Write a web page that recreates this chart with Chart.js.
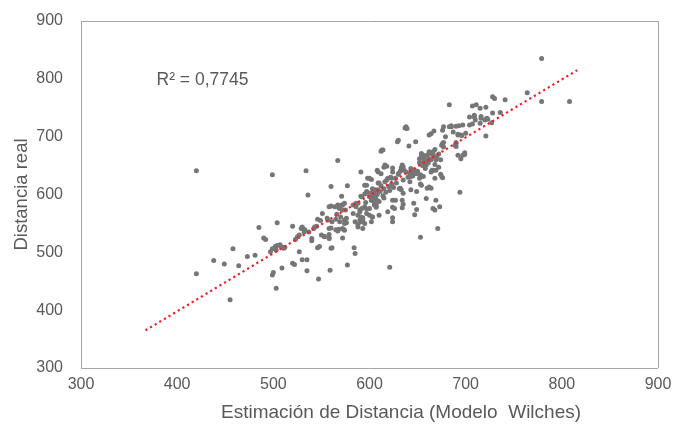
<!DOCTYPE html>
<html>
<head>
<meta charset="utf-8">
<script src="https://cdn.jsdelivr.net/npm/chart.js@4.4.1/dist/chart.umd.min.js"></script>
<style>html,body{margin:0;padding:0;background:#fff}canvas{display:block}</style>
</head>
<body>
<canvas id="c" width="674" height="431"></canvas>
<script>
// Outer / scattered points
const estimacionA = [420,420,438,449,455,458,464,473,481,485,490,492,499,504,499,500,503,497,499,502,504,507,508,503,509,512,510,511,520,520,522,523,525,527,530,530,532,534,535,535,536,533,537,540,540,542,545,547,548,546,546,549,551,550,553,556,558,558,559,560,560,561,560,560,561,565,566,567,568,568,571,571,572,573,575,576,577,577,584,585,585,586,588,590,591,592,593,595,595,596,597,598,600,600,602,603,604,605,606,607,608,608,610,610,611,612,612,613,614,615,615,616,617,618,618,619,620,621,621,622,623,624,624,624,624,625,626,627,628,629,630,630,631,632,633,634,635,635,636,637,638,639,640,641,643,644,645,647,647,648,649,649,650,652,653,653,654,655,656,657,658,660,661,662,663,664,666,666,667,668,669,670,671,672,674,675,676,676,676,677,679,683,683,685,690,692,692,693,694,696,697,697,699,700,704,704,707,707,709,711,715,716,721,721,722,727,728,728,730,736,741,764,779,779,808];
const realA = [641,463,486,480,418,506,477,493,495,543,525,522,634,551,461,465,438,501,506,510,512,513,510,504,473,509,508,507,545,481,479,522,527,501,487,544,540,641,487,468,599,538,535,520,524,541,545,454,510,557,508,555,567,530,528,559,525,531,469,507,614,508,580,542,553,557,566,659,577,540,582,597,525,540,573,551,615,478,508,498,553,585,548,570,639,596,560,601,616,586,575,604,628,596,590,610,598,582,608,592,642,600,620,588,605,675,615,677,598,647,610,622,604,649,625,570,614,474,607,630,618,560,553,590,639,612,576,628,620,691,694,635,610,640,646,651,583,625,642,715,717,714,630,684,645,638,632,642,565,691,605,574,640,655,618,526,632,650,662,663,645,668,655,703,660,705,642,576,710,652,590,665,541,670,635,685,629,688,711,690,700,717,755,719,690,703,668,719,604,702,668,720,672,706,720,734,753,722,737,755,749,735,701,751,732,724,741,769,766,742,764,776,835,761,761];

// Dense core points
const estimacionB = [567,569,574,572,529,532,527,565,567,574,590,591,595,553,558,
  656,662,668,669,659,609,612,630,638,645,649,642,662,660,597,602,607,633,635,668,583,586,590,597,603,610,
  656,666,677,674,616,624,634,643,653,665,672,597,609,623,632,643,654,664,591,603,615,627,634,646,659,673,592,607,624,634,
  709,710,716,720,723,690,685,677,687,692,695,715,689,690,668,662,666,654,695,699,
  654,652,657,655,659,662,666,664,635,649,664,669,675,656,652,643,642,623,619,668,690,614,
  598,602,605,609,605,602,564,558,572,588,595,600,605,607,557,570,576,583,588,591,593,600,603,602,569,574,543,558,588,593,572,574];
const realB = [582,576,585,573,541,535,530,539,537,556,556,553,550,527,524,
  664,662,665,660,657,639,636,636,639,640,636,622,613,611,605,602,599,608,602,573,582,579,573,567,561,564,
  668,668,682,660,651,646,649,639,634,642,647,616,620,616,611,608,616,611,597,595,594,590,590,585,593,579,576,578,578,577,
  734,729,732,729,730,718,717,717,708,704,703,723,685,683,678,674,671,671,662,669,
  668,662,660,654,651,671,674,660,648,639,639,642,631,631,628,631,636,628,628,628,688,677,
  628,626,605,608,596,590,579,579,582,585,579,576,587,582,556,561,559,567,564,561,556,564,561,553,553,550,544,541,544,541,541,538];

// Trend line (linear fit, as drawn)
const trendX = [367, 816];
const trendY = [365, 815];

const axisMin = 300, axisMax = 900, axisStep = 100;
const rSquaredText = 'R² = 0,7745';
const rSquaredPos = [378.5, 797];
const xTitle = 'Estimación de Distancia (Modelo  Wilches)';
const yTitle = 'Distancia real';

const FONT = "'Liberation Sans', Arial, sans-serif";
const TXT = '#595959';

const pts = estimacionA.map((x, i) => ({x, y: realA[i]}))
  .concat(estimacionB.map((x, i) => ({x, y: realB[i]})));
const trend = trendX.map((x, i) => ({x, y: trendY[i]}));

const edgeColor = (ctx) => (ctx.tick && (ctx.tick.value === axisMin || ctx.tick.value === axisMax)) ? '#a6a6a6' : 'rgba(0,0,0,0)';

const textPlugin = {
  id: 'texts',
  afterDraw(chart) {
    const {ctx, scales} = chart;
    ctx.save();
    ctx.fillStyle = TXT;
    ctx.textBaseline = 'middle';
    ctx.font = '19px ' + FONT;
    ctx.textAlign = 'center';
    ctx.fillText(xTitle, 401, 413);
    ctx.font = '17.5px ' + FONT;
    ctx.textAlign = 'left';
    ctx.fillText(rSquaredText, scales.x.getPixelForValue(rSquaredPos[0]), scales.y.getPixelForValue(rSquaredPos[1]));
    ctx.restore();
  }
};

new Chart(document.getElementById('c'), {
  type: 'scatter',
  data: {
    datasets: [
      {
        data: trend,
        showLine: true,
        pointRadius: 0,
        borderColor: 'rgb(245,30,35)',
        borderWidth: 2.2,
        borderDash: [2.2, 3.2],
        fill: false
      },
      {
        data: pts,
        pointRadius: 2.5,
        pointBackgroundColor: '#767676',
        pointBorderWidth: 0,
        borderWidth: 0
      }
    ]
  },
  options: {
    responsive: false,
    animation: false,
    layout: {padding: {top: 21, right: 16, bottom: 0, left: 0}},
    plugins: {legend: {display: false}, tooltip: {enabled: false}},
    scales: {
      x: {
        type: 'linear', min: axisMin, max: axisMax,
        ticks: {stepSize: axisStep, color: TXT, font: {family: FONT, size: 16}, padding: 7},
        grid: {drawTicks: false, color: edgeColor, lineWidth: 1},
        border: {display: false},
        afterFit: (s) => { s.height = 63; s.paddingLeft = 0; s.paddingRight = 0; }
      },
      y: {
        type: 'linear', min: axisMin, max: axisMax,
        ticks: {stepSize: axisStep, color: TXT, font: {family: FONT, size: 16}, padding: 18},
        grid: {drawTicks: false, color: edgeColor, lineWidth: 1},
        border: {display: false},
        title: {display: true, text: yTitle, color: TXT, font: {family: FONT, size: 18.5}, padding: {top: 10.5, bottom: 0}},
        afterFit: (s) => { s.width = 81; s.paddingTop = 0; s.paddingBottom = 0; }
      }
    }
  },
  plugins: [textPlugin]
});
</script>
</body>
</html>
